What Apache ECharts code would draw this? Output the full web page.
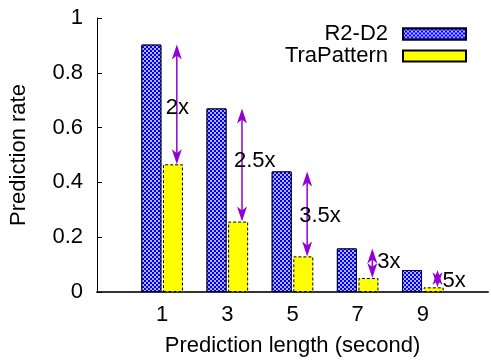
<!DOCTYPE html>
<html>
<head>
<meta charset="utf-8">
<script src="https://cdn.jsdelivr.net/npm/echarts@6/dist/echarts.min.js"></script>
<style>
  html, body { margin: 0; padding: 0; background: #fff; }
  #chart { width: 491px; height: 362px; }
</style>
</head>
<body>
<div id="chart"></div>
<script>
// Prediction length (seconds) on the x axis
const lengths = [1, 3, 5, 7, 9];
// Prediction rate per method
const r2d2 = [0.903, 0.670, 0.440, 0.159, 0.080];
const traPattern = [0.466, 0.257, 0.130, 0.051, 0.017];
// Improvement factor annotated next to each pair of bars
const ratioLabels = ['2x', '2.5x', '3.5x', '3x', '5x'];
const yTicks = [0, 0.2, 0.4, 0.6, 0.8, 1];

const FONT = '"Liberation Sans", Arial, Helvetica, sans-serif';
const ARROW_COLOR = '#9400D3';
// layout of the annotation arrows/labels (pixels / axis units)
const arrowShift = 0.45;
const labelDx = [-11, -8, -8, 5, 5];
const labelDy = [3, -4, 2, -1, 2];

const chart = echarts.init(document.getElementById('chart'), null, { renderer: 'canvas' });

const arrowData = lengths.map((x, i) => [x + arrowShift, traPattern[i], r2d2[i], i]);

const option = {
  animation: false,
  backgroundColor: '#fff',
  textStyle: { fontFamily: FONT, color: '#000' },
  grid: { left: 97, right: 0, top: 18, bottom: 69, containLabel: false },
  legend: {
    orient: 'vertical',
    right: 24,
    top: 23,
    padding: 0,
    align: 'right',
    icon: 'rect',
    itemWidth: 63,
    itemHeight: 11,
    itemGap: 0,
    selectedMode: false,
    data: ['R2-D2', 'TraPattern'],
    textStyle: { fontSize: 22, fontFamily: FONT, color: '#000', padding: [0, 10, 0, 0] }
  },
  xAxis: {
    type: 'value',
    min: -1,
    max: 11,
    interval: 2,
    name: 'Prediction length (second)',
    nameLocation: 'middle',
    nameGap: 43,
    nameTextStyle: { fontSize: 22, fontFamily: FONT, color: '#000' },
    axisLine: { show: true, onZero: true, lineStyle: { color: '#333', width: 2 } },
    axisTick: { show: false },
    splitLine: { show: false },
    axisLabel: {
      fontSize: 22, fontFamily: FONT, color: '#000', margin: 12,
      formatter: v => (lengths.indexOf(v) >= 0 ? String(v) : '')
    }
  },
  yAxis: {
    type: 'value',
    min: 0,
    max: 1,
    interval: 0.2,
    name: 'Prediction rate',
    nameLocation: 'middle',
    nameGap: 67,
    nameTextStyle: { fontSize: 22, fontFamily: FONT, color: '#000' },
    axisLine: { show: true, onZero: false, lineStyle: { color: '#000', width: 1 } },
    axisTick: { show: true, inside: true, length: 5, lineStyle: { color: '#000', width: 1 } },
    splitLine: { show: false },
    axisLabel: {
      fontSize: 22, fontFamily: FONT, color: '#000', margin: 14,
      formatter: v => (yTicks.some(t => Math.abs(t - v) < 1e-9) ? String(+v.toFixed(1)) : '')
    }
  },
  series: [
    {
      name: 'R2-D2',
      type: 'bar',
      barWidth: 20,
      barGap: '8%',
      data: lengths.map((x, i) => [x, r2d2[i]]),
      itemStyle: {
        color: '#0000FF',
        borderColor: '#000033',
        borderWidth: 1,
        decal: {
          symbol: 'rect',
          symbolSize: 1,
          color: 'rgba(255,255,255,0.7)',
          dashArrayX: [[2, 2], [0, 2, 2, 0]],
          dashArrayY: [2, 0],
          rotation: 0
        }
      }
    },
    {
      name: 'TraPattern',
      type: 'bar',
      barWidth: 20,
      barGap: '8%',
      data: lengths.map((x, i) => [x, traPattern[i]]),
      itemStyle: {
        color: '#FFFF00',
        borderColor: '#000',
        borderWidth: 1,
        borderType: [3, 2]
      }
    },
    {
      name: 'ratio',
      type: 'custom',
      z: 5,
      clip: false,
      data: arrowData,
      encode: { x: 0, y: [1, 2] },
      renderItem: function (params, api) {
        const x = api.value(0);
        const lo = api.coord([x, api.value(1)]);
        const hi = api.coord([x, api.value(2)]);
        const idx = api.value(3);
        const cx = lo[0], bot = lo[1], top = hi[1];
        const L = 15, W = 5, N = 11;
        return {
          type: 'group',
          children: [
            {
              type: 'line',
              shape: { x1: cx, y1: top + 4, x2: cx, y2: bot - 4 },
              style: { stroke: ARROW_COLOR, lineWidth: 1.5 }
            },
            {
              type: 'polygon',
              shape: { points: [[cx, top], [cx - W, top + L], [cx, top + N], [cx + W, top + L]] },
              style: { fill: ARROW_COLOR }
            },
            {
              type: 'polygon',
              shape: { points: [[cx, bot], [cx - W, bot - L], [cx, bot - N], [cx + W, bot - L]] },
              style: { fill: ARROW_COLOR }
            },
            {
              type: 'text',
              z2: 10,
              style: {
                x: cx + labelDx[idx],
                y: (top + bot) / 2 + labelDy[idx],
                text: ratioLabels[idx],
                fill: '#000',
                fontSize: 22,
                fontFamily: FONT,
                align: 'left',
                verticalAlign: 'middle'
              }
            }
          ]
        };
      }
    }
  ]
};

chart.setOption(option);
</script>
</body>
</html>
